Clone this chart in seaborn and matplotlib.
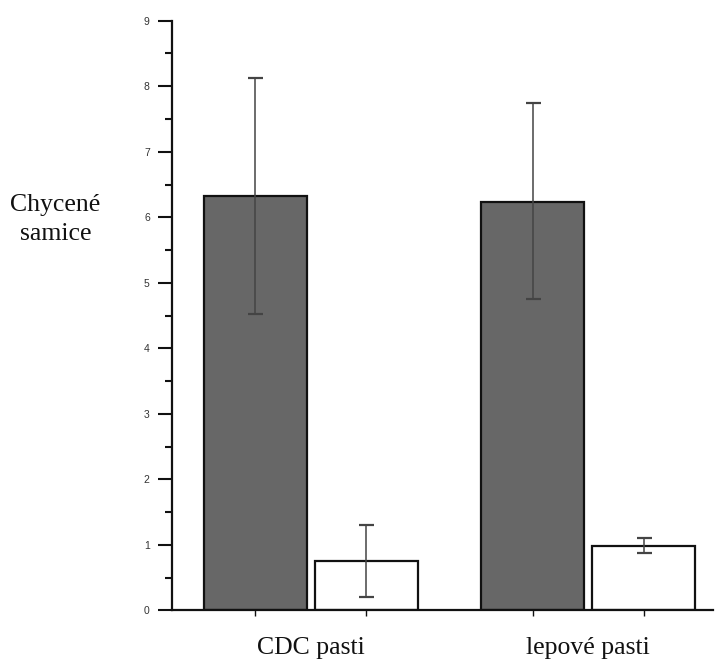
"""Bar chart of caught females for CDC and sticky traps (two treatments)."""

import matplotlib

matplotlib.use("Agg")
import matplotlib.pyplot as plt
import pandas as pd
import seaborn as sns

# Data
trap_types = ["CDC pasti", "lepové pasti"]
treatments = ["A", "B"]
mean_a = [6.32, 6.24]
mean_b = [0.76, 0.99]
err_low_a = [4.52, 4.75]
err_high_a = [8.12, 7.75]
err_low_b = [0.21, 0.88]
err_high_b = [1.31, 1.11]
y_ticks = list(range(0, 10))

df = pd.DataFrame(
    {
        "trap": trap_types * 2,
        "treatment": [treatments[0]] * 2 + [treatments[1]] * 2,
        "value": mean_a + mean_b,
        "low": err_low_a + err_low_b,
        "high": err_high_a + err_high_b,
    }
)

sns.set_theme(style="white")

fig = plt.figure(figsize=(7.21, 6.59), dpi=100)
ax = fig.add_axes([0.2386, 0.0736, 0.7504, 0.895])

sns.barplot(
    data=df,
    x="trap",
    y="value",
    hue="treatment",
    order=trap_types,
    hue_order=treatments,
    palette={"A": "#676767", "B": "#ffffff"},
    edgecolor="#111111",
    linewidth=1.6,
    width=0.8,
    gap=0.07,
    errorbar=None,
    legend=False,
    ax=ax,
)

# error bars at each bar centre, using the bar patches seaborn drew
bar_centres = []
for container, treat in zip(ax.containers, treatments):
    sub = df[df["treatment"] == treat].set_index("trap").loc[trap_types]
    xs = [p.get_x() + p.get_width() / 2 for p in container.patches]
    bar_centres.extend(xs)
    yerr = [sub["value"] - sub["low"], sub["high"] - sub["value"]]
    ax.errorbar(
        xs,
        sub["value"],
        yerr=yerr,
        fmt="none",
        ecolor="#444444",
        elinewidth=1.1,
        capsize=5.4,
        capthick=1.6,
        zorder=5,
    )

ax.set_xlim(-0.5, 1.45)
ax.set_ylim(0, 9)

for side in ["top", "right"]:
    ax.spines[side].set_visible(False)
for side in ["left", "bottom"]:
    ax.spines[side].set_linewidth(1.6)
    ax.spines[side].set_color("#111111")

ax.set_yticks(y_ticks)
ax.set_yticks([t + 0.5 for t in y_ticks[:-1]], minor=True)
ax.tick_params(
    axis="y", which="major", direction="out", length=10, width=1.5,
    color="#111111", pad=6, labelsize=7.5, labelcolor="#333333", left=True,
)
ax.tick_params(axis="y", which="minor", direction="out", length=5, width=1.5,
               color="#111111", left=True)
for lab in ax.get_yticklabels():
    lab.set_family(["Liberation Sans", "DejaVu Sans"])

ax.set_xticks(range(len(trap_types)))
ax.set_xticklabels(trap_types)
ax.set_xticks(bar_centres, minor=True)
ax.tick_params(axis="x", which="major", length=0, pad=19, labelsize=18.5,
               labelcolor="#111111")
ax.tick_params(axis="x", which="minor", direction="out", length=4, width=1,
               color="#111111", bottom=True)
for lab in ax.get_xticklabels():
    lab.set_family(["Liberation Serif", "DejaVu Serif"])

ax.set_xlabel("")
ax.set_ylabel("")

fig.text(
    0.077, 0.667, "Chycené\nsamice",
    ha="center", va="center", fontsize=18.5, linespacing=1.45,
    family=["Liberation Serif", "DejaVu Serif"], color="#111111",
)

fig.savefig("out.png", dpi=100)
plt.close(fig)
